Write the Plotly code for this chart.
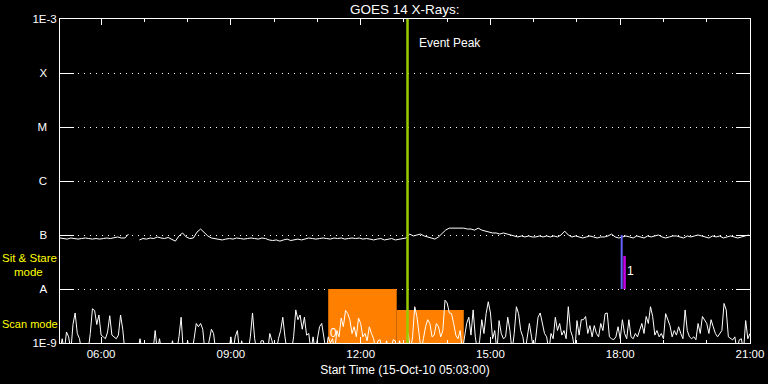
import datetime as dt
import plotly.graph_objects as go

# ---------------- data ----------------
start = dt.datetime(2010, 10, 15, 5, 3)
end = dt.datetime(2010, 10, 15, 21, 0)

# Long channel (1-8 A), 5-minute cadence, units of 1e-9 W/m^2
long_flux = [
    88, 86, 84, 88, 86, 84, 86, 88, 86, 84,
    86, 84, 86, 88, 86, 88, 92, 88, 88, 104,
    None, None, 81, 86, 84, 88, 86, 92, 88, 86,
    90, 84, 77, 96, 109, 92, 86, 88, 113, 129,
    109, 96, 88, 86, 84, 81, 84, 86, 84, 88,
    86, 84, 86, 88, 86, 84, 88, 86, 81, 79,
    81, 77, 81, 84, 79, 81, 84, 81, 84, 88,
    86, 84, 86, 88, 86, 84, 88, 86, 88, 84,
    86, 88, 86, 88, 84, 86, 84, 81, 84, 86,
    81, 84, 86, 81, 84, 86, 88, 104, 96, 100,
    104, 96, 92, 88, 84, 92, 109, 124, 134, 134,
    134, 134, 134, 129, 129, 123, 134, 123, 118, 113,
    109, 109, 104, 109, 104, 100, 96, 92, 96, 92,
    96, 92, 92, 96, 92, 96, 92, 96, 92, 100,
    118, 100, 92, 96, 92, 88, 92, 96, 92, 88,
    92, 92, 96, 104, 92, 88, 92, 96, 92, 88,
    96, 92, 88, 96, 92, 96, 100, 92, 88, 92,
    96, 96, 92, 88, 96, 92, 96, 100, 96, 92,
    88, 96, 92, 96, 88, 92, 96, 92, 88, 92, 96, 100,
]
long_step_min = 5

# Short channel (0.5-4 A), 3-minute cadence, units of 1e-9 W/m^2
short_flux = [
    0.7, 1.2, 0.7, 1.6, 1.3, 0.7, 2.2, 3.6, 1.5, 1.2, 0.7, 0.7, 0.7, 0.7, 1.5, 4.3, 4.0, 2.2, 3.3, 1.4,
    1.3, 1.2, 1.6, 3.2, 1.4, 1.3, 1.2, 1.4, 3.3, 1.8, 0.7, 0.7, 0.7, 0.7, 0.7, 0.7, 0.7, 1.2, 0.7, 0.7,
    0.7, 0.7, 0.7, 0.7, 1.7, 0.7, 1.2, 0.7, 0.7, 0.7, 0.7, 0.7, 1.1, 0.7, 0.7, 1.3, 3.0, 0.7, 0.7, 1.1,
    0.7, 0.7, 1.2, 2.3, 2.0, 2.3, 1.8, 0.7, 0.7, 1.2, 1.8, 1.5, 0.7, 0.7, 0.7, 0.7, 0.7, 0.7, 0.7, 1.3,
    0.7, 1.3, 1.7, 0.7, 1.1, 0.7, 0.7, 0.7, 1.3, 3.6, 1.2, 0.7, 0.7, 1.1, 1.1, 0.7, 0.7, 1.5, 1.1, 0.7,
    0.7, 1.2, 1.7, 3.0, 1.3, 0.7, 0.7, 0.7, 1.3, 4.1, 2.7, 3.3, 1.8, 3.0, 1.4, 1.5, 0.7, 1.3, 0.7, 1.3,
    2.0, 2.3, 1.2, 0.7, 1.3, 1.0, 1.2, 0.7, 1.7, 1.3, 2.9, 2.0, 4.0, 3.5, 2.7, 1.5, 2.0, 1.3, 2.9, 2.3,
    1.3, 1.5, 1.1, 2.0, 1.5, 1.2, 0.7, 1.1, 1.15, 0.7, 0.7, 1.1, 0.7, 0.7, 1.15, 1.1, 0.7, 1.1, 0.7, 0.7,
    0.7, 1.5, 0.7, 1.3, 4.7, 3.1, 1.3, 0.7, 1.2, 2.0, 2.7, 2.3, 1.3, 1.4, 2.3, 2.0, 1.3, 1.7, 6.2, 5.5,
    3.6, 3.5, 2.3, 1.4, 1.2, 1.7, 0.7, 1.4, 2.3, 3.0, 1.4, 4.1, 1.3, 0.7, 1.1, 2.7, 1.5, 3.5, 5.8, 3.6,
    1.2, 1.7, 0.7, 2.6, 1.5, 1.2, 1.3, 3.0, 1.7, 0.7, 1.5, 4.7, 3.5, 1.7, 1.3, 0.7, 1.2, 2.3, 1.3, 0.7,
    1.3, 3.0, 3.6, 2.3, 1.5, 1.3, 0.7, 1.5, 1.2, 3.0, 1.7, 2.3, 1.4, 1.7, 1.2, 4.7, 1.7, 1.3, 0.7, 2.6,
    1.4, 2.7, 2.7, 3.1, 1.5, 2.1, 1.3, 2.1, 1.5, 1.3, 2.3, 1.7, 3.5, 3.6, 1.3, 1.2, 1.15, 1.3, 2.0, 1.2,
    2.7, 1.5, 1.2, 2.7, 1.3, 1.2, 1.5, 1.3, 1.7, 2.3, 1.5, 3.1, 2.3, 4.7, 3.1, 1.4, 1.7, 1.3, 1.5, 1.2,
    3.5, 2.7, 2.1, 1.3, 1.7, 1.4, 2.0, 1.5, 1.2, 4.1, 1.7, 1.3, 1.2, 1.3, 1.15, 2.3, 1.5, 3.1, 2.7, 2.3,
    1.5, 2.7, 2.0, 1.5, 1.3, 1.5, 1.7, 5.4, 4.1, 1.3, 1.2, 1.14, 1.3, 0.7, 1.14, 1.2, 0.7, 2.6, 1.2, 1.5,
]
short_step_min = 3
flux_unit = 1e-9

# Observing-mode blocks
mode_start = ["2010-10-15 11:15", "2010-10-15 12:50"]
mode_end = ["2010-10-15 12:50", "2010-10-15 14:23"]
mode_level = [1.0e-8, 4.1e-9]
mode_label = ["0", ""]

# Event peak
peak_time = "2010-10-15 13:05"
peak_label = "Event Peak"

# Flare marker "1"
flare_time = "2010-10-15 18:02"
flare_range = [1e-8, 1e-7]
flare_bar_time = "2010-10-15 18:06"
flare_bar_range = [1e-8, 4.1e-8]
flare_label = "1"

y_tickvals = [1e-9, 1e-8, 1e-7, 1e-6, 1e-5, 1e-4, 1e-3]
y_ticktext = ["1E-9", "A\u00a0\u00a0\u00a0", "B\u00a0\u00a0\u00a0", "C\u00a0\u00a0\u00a0",
              "M\u00a0\u00a0\u00a0", "X\u00a0\u00a0\u00a0", "1E-3"]

# ---------------- figure ----------------
FONT = "Liberation Sans, Arial, DejaVu Sans"
long_t = [start + dt.timedelta(minutes=long_step_min * i) for i in range(len(long_flux))]
short_t = [start + dt.timedelta(minutes=short_step_min * i) for i in range(len(short_flux))]
long_y = [None if v is None else v * flux_unit for v in long_flux]
short_y = [v * flux_unit for v in short_flux]

fig = go.Figure()

# mode rectangles
for s, e, lv in zip(mode_start, mode_end, mode_level):
    fig.add_trace(go.Scatter(
        x=[s, s, e, e, s], y=[1e-10, lv, lv, 1e-10, 1e-10],
        fill="toself", fillcolor="#ff8000", mode="none",
        hoverinfo="skip", showlegend=False))

fig.add_trace(go.Scatter(x=long_t, y=long_y, mode="lines",
                         line=dict(color="white", width=1), connectgaps=False,
                         showlegend=False))
fig.add_trace(go.Scatter(x=short_t, y=short_y, mode="lines",
                         line=dict(color="white", width=1), showlegend=False))

# event peak line
fig.add_trace(go.Scatter(x=[peak_time, peak_time], y=[1e-9, 1e-3], mode="lines",
                         line=dict(color="#99cc00", width=2.5), showlegend=False))
# flare marker
fig.add_trace(go.Scatter(x=[flare_time, flare_time], y=flare_range, mode="lines",
                         line=dict(color="#6464ff", width=2), showlegend=False))
fig.add_trace(go.Scatter(x=[flare_bar_time, flare_bar_time], y=flare_bar_range, mode="lines",
                         line=dict(color="#c800e6", width=2.5), showlegend=False))

annotations = [
    dict(x=peak_time, y=0.927, xref="x", yref="paper", text=peak_label, showarrow=False,
         xanchor="left", yanchor="middle", xshift=9, font=dict(color="white", size=12, family=FONT)),
    dict(x=flare_bar_time, y=0.222, xref="x", yref="paper", text=flare_label, showarrow=False,
         xanchor="left", yanchor="middle", xshift=0, font=dict(color="white", size=12, family=FONT)),
    dict(x=mode_start[0], y=0.031, xref="x", yref="paper", text=mode_label[0], showarrow=False,
         xanchor="left", yanchor="middle", xshift=0, font=dict(color="white", size=12, family=FONT)),
    dict(x=-0.087, y=0.262, xref="paper", yref="paper", text="Sit & Stare", showarrow=False,
         xanchor="left", yanchor="middle", font=dict(color="#ffff00", size=11.5, family=FONT)),
    dict(x=-0.070, y=0.220, xref="paper", yref="paper", text="mode", showarrow=False,
         xanchor="left", yanchor="middle", font=dict(color="#ffff00", size=11.5, family=FONT)),
    dict(x=-0.087, y=0.059, xref="paper", yref="paper", text="Scan mode", showarrow=False,
         xanchor="left", yanchor="middle", font=dict(color="#ffff00", size=11, family=FONT)),
]

fig.update_layout(
    width=768, height=384,
    margin=dict(l=60, r=18, t=19, b=41, autoexpand=False),
    paper_bgcolor="black", plot_bgcolor="black",
    font=dict(family=FONT, color="white", size=12),
    title=dict(text="GOES 14 X-Rays:", x=0.527, xanchor="center",
               yref="container", y=0.975, yanchor="middle",
               font=dict(size=13.5, color="white", family=FONT)),
    annotations=annotations,
    showlegend=False,
)
fig.update_xaxes(
    type="date", range=[start, end], automargin=False,
    tickformat="%H:%M", dtick=3 * 3600000, tick0="2010-10-15 06:00",
    ticks="inside", ticklen=6, tickcolor="white", tickwidth=1,
    minor=dict(dtick=3600000, ticks="inside", ticklen=3, tickcolor="white", showgrid=False),
    showline=True, linecolor="white", linewidth=1, mirror="ticks",
    showgrid=False, zeroline=False,
    tickfont=dict(size=11.5, color="white", family=FONT),
    title=dict(text="Start Time (15-Oct-10 05:03:00)", standoff=6,
               font=dict(size=12, color="white", family=FONT)),
)
fig.update_yaxes(
    type="log", range=[-9, -3], automargin=False,
    tickvals=y_tickvals, ticktext=y_ticktext,
    ticks="inside", ticklen=14, tickcolor="white", tickwidth=1,
    showline=True, linecolor="white", linewidth=1, mirror="ticks",
    showgrid=True, gridcolor="white", gridwidth=1, griddash="1px,5px",
    zeroline=False,
    tickfont=dict(size=11.5, color="white", family=FONT),
)

fig.write_html(
    "out.html",
    config={"displayModeBar": False},
    post_script="document.body.style.margin='0';document.body.style.padding='0';"
                "document.body.style.overflow='hidden';document.body.style.background='black';",
)
